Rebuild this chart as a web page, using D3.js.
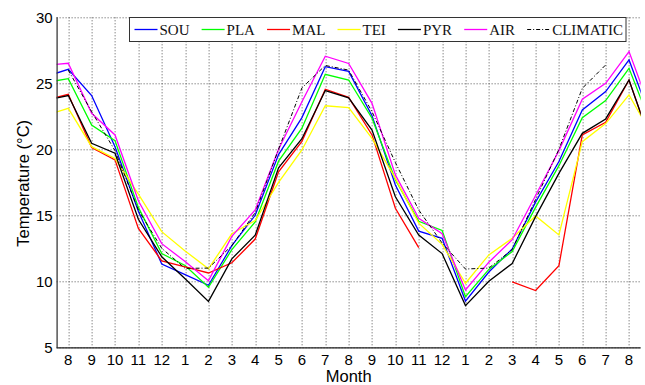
<!DOCTYPE html>
<html>
<head>
<meta charset="utf-8">
<script src="https://cdn.jsdelivr.net/npm/d3@7"></script>
<style>
  body { margin: 0; background: #fff; }
  svg { display: block; }
</style>
</head>
<body>
<div id="chart"></div>
<script>
// month index 0..26 (7, 8..12, 1..12, 1..8, 9); ticks shown for 1..25, ends clipped by the axes
var months = [7, 8, 9, 10, 11, 12, 1, 2, 3, 4, 5, 6, 7, 8, 9, 10, 11, 12, 1, 2, 3, 4, 5, 6, 7, 8, 9];
var yTicks = [5, 10, 15, 20, 25, 30];

var SOU = [25.5, 26.06, 24.07, 20.2, 15.3, 11.31, 10.5, 9.7, 12.7, 15.0, 19.6, 22.4, 26.26, 25.9, 22.55, 17.3, 13.8, 13.26, 8.5, 10.7, 12.45, 16.0, 19.07, 22.98, 24.37, 26.77, 22.0];
var PLA = [25.05, 25.35, 21.84, 20.66, 15.6, 12.1, 11.2, 9.55, 12.4, 14.5, 19.1, 21.6, 25.68, 25.25, 22.35, 17.7, 14.55, 13.85, 8.84, 10.9, 12.25, 15.6, 18.76, 22.4, 23.69, 26.14, 21.6];
var MAL = [23.7, 24.17, 20.13, 19.2, 14.0, 11.55, 11.1, 10.63, 11.4, 13.2, 18.3, 20.6, 24.55, 23.94, 21.09, 15.53, 12.55, null, null, null, 9.95, 9.3, 11.19, 21.09, 22.05, 25.25, 20.2];
var TEI = [22.56, 23.1, 20.2, 19.3, 16.6, 13.76, 12.3, 10.95, 13.6, 14.6, 17.5, 19.95, 23.3, 23.15, 20.83, 17.8, 14.4, 12.8, 9.85, 12.0, 13.26, 14.95, 13.51, 20.58, 21.95, 24.12, 21.0];
var PYR = [23.7, 24.07, 20.45, 19.7, 14.7, 11.86, 10.2, 8.48, 11.7, 13.5, 18.6, 20.8, 24.45, 23.9, 21.46, 16.4, 13.5, 12.1, 8.16, 10.0, 11.35, 14.9, 18.18, 21.21, 22.3, 25.25, 20.2];
var AIR = [26.36, 26.52, 22.73, 21.09, 16.1, 12.85, 11.5, 10.05, 13.4, 15.4, 20.0, 23.6, 27.05, 26.5, 23.48, 18.06, 14.77, 13.6, 9.34, 11.45, 13.15, 16.5, 19.9, 23.79, 25.0, 27.4, 22.6];
var CLIMATIC = [null, 26.0, 22.85, 19.9, 15.4, 12.5, 10.98, 11.0, 12.7, 15.2, 20.0, 24.65, 26.35, 26.0, 22.85, 19.0, 15.4, 12.9, 10.93, 11.0, 12.4, 16.2, 20.0, 24.62, 26.39, null, null];

var seriesNames = ["SOU", "PLA", "MAL", "TEI", "PYR", "AIR", "CLIMATIC"];
var seriesValues = [SOU, PLA, MAL, TEI, PYR, AIR, CLIMATIC];
var seriesColors = ["#0000ff", "#00ff00", "#ff0000", "#ffff00", "#000000", "#ff00ff", "#000000"];

var width = 645, height = 385;
var margin = { top: 17.3, right: 4.3, bottom: 37.7, left: 56.6 };
var w = width - margin.left - margin.right, h = height - margin.top - margin.bottom;

var svg = d3.select("#chart").append("svg")
    .attr("width", width)
    .attr("height", height)
    .style("font-family", "'Liberation Sans', Arial, sans-serif");

var g = svg.append("g").attr("transform", "translate(" + margin.left + "," + margin.top + ")");

var x = d3.scaleLinear().domain([0.5, 25.5]).range([0, w]);
var y = d3.scaleLinear().domain([5, 30]).range([h, 0]);

var xIdx = d3.range(1, 26);

// grid
var grid = g.append("g").attr("class", "grid")
    .attr("stroke", "#555").attr("stroke-width", 1).attr("stroke-dasharray", "1,2");
grid.selectAll(".gx").data(xIdx).enter().append("line")
    .attr("x1", d => Math.round(x(d)) + 0.5).attr("x2", d => Math.round(x(d)) + 0.5)
    .attr("y1", 0).attr("y2", h);
grid.selectAll(".gy").data(yTicks).enter().append("line")
    .attr("x1", 0).attr("x2", w)
    .attr("y1", d => Math.round(y(d)) + 0.5).attr("y2", d => Math.round(y(d)) + 0.5);

// clip
svg.append("defs").append("clipPath").attr("id", "plotclip")
    .append("rect").attr("x", 0).attr("y", -2).attr("width", w).attr("height", h + 2);

var line = d3.line()
    .defined(d => d[1] != null)
    .x(d => x(d[0]))
    .y(d => y(d[1]));

var lines = g.append("g").attr("clip-path", "url(#plotclip)");
seriesValues.forEach(function (vals, i) {
    var pts = vals.map((v, k) => [k, v]);
    lines.append("path")
        .attr("d", line(pts))
        .attr("fill", "none")
        .attr("stroke", seriesColors[i])
        .attr("stroke-width", seriesNames[i] == "CLIMATIC" ? 1 : 1.3)
        .attr("stroke-dasharray", seriesNames[i] == "CLIMATIC" ? "4,2,1,2" : null);
});

// axes lines
g.append("line").attr("x1", 0.5).attr("x2", 0.5).attr("y1", 0).attr("y2", h + 0.5)
    .attr("stroke", "#3a3a3a").attr("stroke-width", 1.3);
g.append("line").attr("x1", 0).attr("x2", w).attr("y1", Math.round(h) + 0.5).attr("y2", Math.round(h) + 0.5)
    .attr("stroke", "#222").attr("stroke-width", 1.2);

// tick labels
g.selectAll(".xl").data(xIdx).enter().append("text")
    .attr("x", d => x(d))
    .attr("y", h + 18)
    .attr("text-anchor", "middle")
    .attr("font-size", "15px")
    .attr("fill", "#000")
    .text(d => months[d]);

g.selectAll(".yl").data(yTicks).enter().append("text")
    .attr("x", -4)
    .attr("y", d => y(d))
    .attr("dy", "0.36em")
    .attr("text-anchor", "end")
    .attr("font-size", "15px")
    .attr("fill", "#000")
    .text(d => d);

// axis titles
svg.append("text")
    .attr("x", margin.left + w / 2)
    .attr("y", 382)
    .attr("text-anchor", "middle")
    .attr("font-size", "16.5px")
    .attr("fill", "#000")
    .text("Month");

svg.append("text")
    .attr("transform", "translate(29," + (margin.top + h / 2 + 1) + ") rotate(-90)")
    .attr("text-anchor", "middle")
    .attr("font-size", "16.5px")
    .attr("fill", "#000")
    .text("Temperature (\u00B0C)");

// legend
var leg = svg.append("g");
var lx0 = 129.5, lx1 = 626, ly0 = 17.5, ly1 = 41.5;
leg.append("rect").attr("x", lx0).attr("y", ly0).attr("width", lx1 - lx0).attr("height", ly1 - ly0)
    .attr("fill", "#fff").attr("stroke", "#333").attr("stroke-width", 1);

var tmp = leg.append("g");
var widths = seriesNames.map(function (n) {
    var t = tmp.append("text").attr("font-family", "'Liberation Serif', 'Times New Roman', serif")
        .attr("font-size", "15px").text(n);
    var wd = t.node().getComputedTextLength();
    t.remove();
    return wd;
});
var sampleLen = 23, sampleGap = 2, start = 134.5, end = 623;
var used = d3.sum(widths) + seriesNames.length * (sampleLen + sampleGap);
var itemGap = (end - start - used) / (seriesNames.length - 1);
var cx = start, ly = 29.5;
seriesNames.forEach(function (n, i) {
    leg.append("line")
        .attr("x1", cx).attr("x2", cx + sampleLen)
        .attr("y1", ly).attr("y2", ly)
        .attr("stroke", seriesColors[i])
        .attr("stroke-width", n == "CLIMATIC" ? 1 : 1.3)
        .attr("stroke-dasharray", n == "CLIMATIC" ? "4,2,1,2" : null);
    leg.append("text")
        .attr("x", cx + sampleLen + sampleGap)
        .attr("y", ly + 5.5)
        .attr("font-family", "'Liberation Serif', 'Times New Roman', serif")
        .attr("font-size", "15px")
        .attr("fill", "#111")
        .text(n);
    cx += sampleLen + sampleGap + widths[i] + itemGap;
});
</script>
</body>
</html>
